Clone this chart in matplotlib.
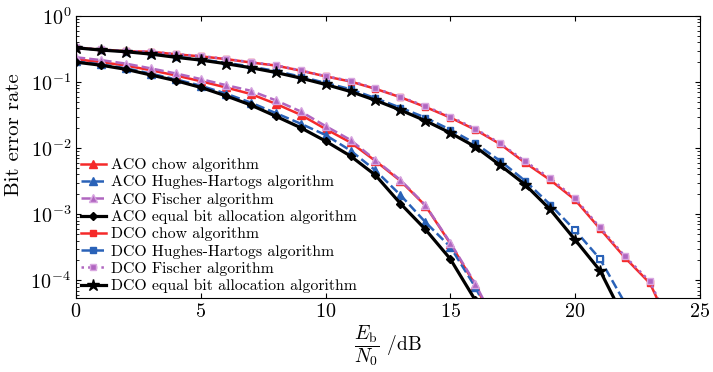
import numpy as np
import matplotlib
matplotlib.use('Agg')
import matplotlib.pyplot as plt

# 字体：Computer Modern 风格
plt.rcParams['font.family'] = ['cmr10', 'DejaVu Serif']
plt.rcParams['mathtext.fontset'] = 'cm'
plt.rcParams['axes.formatter.use_mathtext'] = True

# 数据（Eb/N0, dB）
snr_aco = [0, 1, 2, 3, 4, 5, 6, 7, 8, 9, 10, 11, 12, 13, 14, 15, 16, 17]
aco_chow = [0.222, 0.2, 0.178, 0.151, 0.126, 0.103, 0.083, 0.066, 0.047, 0.032, 0.0195, 0.0122, 0.0064, 0.0032, 0.00135, 0.00036, 8.5e-5, 1.5e-5]
aco_hh = [0.205, 0.185, 0.162, 0.134, 0.11, 0.088, 0.067, 0.049, 0.034, 0.0235, 0.0158, 0.0092, 0.0046, 0.00195, 0.00076, 0.00032, 7.9e-5, 1.4e-5]
aco_fischer = [0.237, 0.215, 0.19, 0.161, 0.135, 0.111, 0.09, 0.074, 0.053, 0.036, 0.0216, 0.0133, 0.0066, 0.0033, 0.00137, 0.00037, 8.9e-5, 1.6e-5]
aco_equal = [0.2, 0.18, 0.156, 0.128, 0.105, 0.083, 0.062, 0.045, 0.0305, 0.0204, 0.0128, 0.0076, 0.0039, 0.00145, 0.00059, 0.00021, 5e-5, 1e-5]

snr_dco = [0, 1, 2, 3, 4, 5, 6, 7, 8, 9, 10, 11, 12, 13, 14, 15, 16, 17, 18, 19, 20, 21, 22, 23, 24]
dco_chow = [0.33, 0.31, 0.293, 0.288, 0.263, 0.245, 0.223, 0.198, 0.178, 0.149, 0.122, 0.102, 0.079, 0.059, 0.042, 0.029, 0.019, 0.0115, 0.006, 0.0033, 0.00165, 0.0006, 0.00022, 9e-5, 1.4e-5]
dco_hh = [0.33, 0.307, 0.29, 0.27, 0.243, 0.22, 0.196, 0.172, 0.147, 0.121, 0.097, 0.078, 0.057, 0.041, 0.029, 0.019, 0.0118, 0.0064, 0.0032, 0.0014, 0.00057, 0.00021, 4.5e-5, 8e-6, 2e-6]
dco_fischer = [0.335, 0.312, 0.295, 0.29, 0.265, 0.248, 0.225, 0.2, 0.18, 0.15, 0.123, 0.104, 0.08, 0.06, 0.043, 0.03, 0.0196, 0.0118, 0.0063, 0.0035, 0.00173, 0.00063, 0.00023, 9.6e-5, 1.5e-5]
dco_equal = [0.33, 0.305, 0.288, 0.265, 0.237, 0.215, 0.19, 0.165, 0.14, 0.115, 0.092, 0.072, 0.053, 0.0377, 0.026, 0.017, 0.0105, 0.0055, 0.0028, 0.00118, 0.00041, 0.00014, 2.5e-5, 4e-6, 1e-6]

labels = ['ACO chow algorithm', 'ACO Hughes-Hartogs algorithm', 'ACO Fischer algorithm',
          'ACO equal bit allocation algorithm', 'DCO chow algorithm', 'DCO Hughes-Hartogs algorithm',
          'DCO Fischer algorithm', 'DCO equal bit allocation algorithm']

red = '#f52a2a'
blue = '#2a62b8'
purple = '#b066c0'

fig = plt.figure(figsize=(7.13, 3.72), dpi=100)
ax = fig.add_axes([0.1066, 0.199, 0.875, 0.758])

lw = 1.8
ax.plot(snr_aco, aco_chow, '-', color=red, marker='^', ms=5.5, lw=lw, label=labels[0])
ax.plot(snr_aco, aco_hh, '--', color=blue, marker='^', ms=5.5, lw=lw, label=labels[1])
ax.plot(snr_aco, aco_fischer, '--', color=purple, marker='^', ms=5.5, lw=lw, label=labels[2],
        markeredgecolor='#d6a3df')
ax.plot(snr_aco, aco_equal, '-', color='black', marker='D', ms=4.5, lw=lw + 0.5, label=labels[3])
ax.plot(snr_dco, dco_chow, '-', color=red, marker='s', ms=5, lw=lw, label=labels[4])
ax.plot(snr_dco, dco_hh, '--', color=blue, marker='s', ms=5, lw=lw, label=labels[5])
# 高信噪比处蓝色方块为空心
ax.plot(snr_dco[20:22], dco_hh[20:22], ls='none', marker='s', ms=5, mfc='white', mec=blue, mew=1.5)
ax.plot(snr_dco, dco_fischer, ':', color=purple, marker='s', ms=5, lw=lw, label=labels[6],
        markerfacecolor=purple, markeredgecolor='#d9a7e0')
ax.plot(snr_dco, dco_equal, '-', color='black', marker='*', ms=9, lw=lw + 0.5, label=labels[7])

ax.set_yscale('log')
ax.set_xlim(0, 25)
ax.set_ylim(5.4e-5, 1)
ax.set_xticks([0, 5, 10, 15, 20, 25])
ax.set_yticks([1, 1e-1, 1e-2, 1e-3, 1e-4])
ax.tick_params(which='both', direction='in', top=True, right=True, labelsize=14.5)
ax.tick_params(which='minor', length=2)

ax.set_ylabel('Bit error rate', fontsize=15)
ax.yaxis.set_label_coords(-0.085, 0.58)
ax.set_xlabel(r'$\dfrac{E_\mathrm{b}}{N_0}$ /dB', fontsize=14, labelpad=2)

ax.legend(loc='lower left', frameon=False, fontsize=11.4, handlelength=1.6,
          handletextpad=0.3, labelspacing=0.2, borderaxespad=0.1, borderpad=0.2)

fig.savefig('out.png', dpi=100)
